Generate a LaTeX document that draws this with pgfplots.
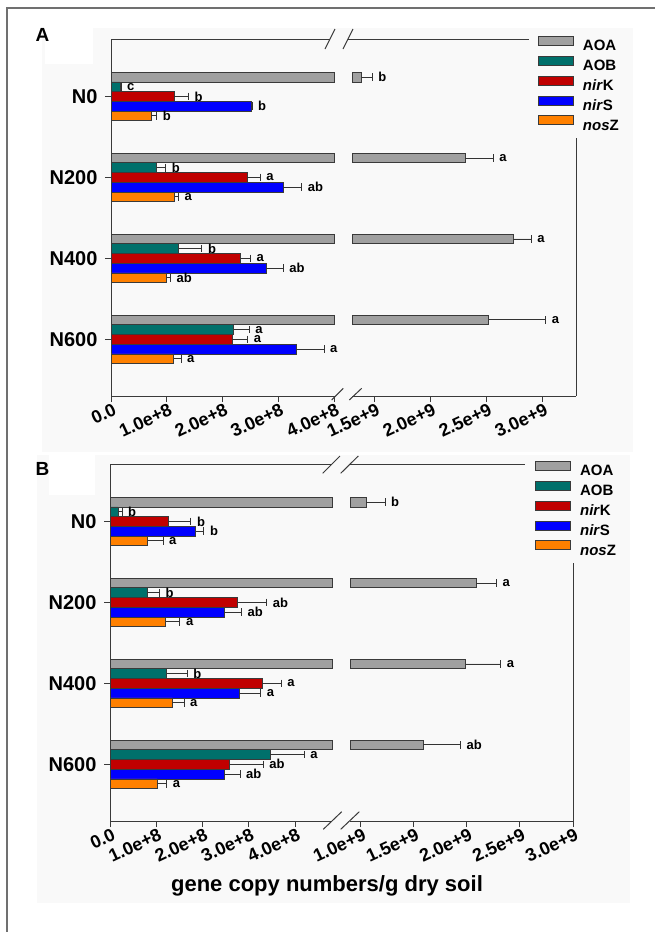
\documentclass[border=0pt]{standalone}
\usepackage{pgfplots}
\pgfplotsset{compat=1.18}
\usepackage{pgfplotstable}
\usepackage{fontspec}
\setmainfont{Liberation Sans}
\definecolor{cAOA}{HTML}{A0A0A0}
\definecolor{cAOB}{HTML}{00706B}
\definecolor{cK}{HTML}{C00000}
\definecolor{cS}{HTML}{0000FF}
\definecolor{cZ}{HTML}{FF8000}
\definecolor{edge}{HTML}{3A3A3A}
\definecolor{bg}{HTML}{F9F9F9}
\definecolor{frm}{HTML}{707070}

\pgfplotstableread{
g AOA eAOA lAOA AOB eAOB lAOB K eK lK S eS lS Z eZ lZ
3 1.38e9 0.10e9 b 1.6e7 0.2e7 c 1.13e8 0.26e8 b 2.51e8 0.02e8 b 0.72e8 0.10e8 b
2 2.31e9 0.25e9 a 0.82e8 0.16e8 b 2.44e8 0.235e8 a 3.09e8 0.33e8 ab 1.14e8 0.07e8 a
1 2.74e9 0.16e9 a 1.215e8 0.415e8 b 2.33e8 0.17e8 a 2.78e8 0.31e8 ab 0.99e8 0.075e8 ab
0 2.52e9 0.51e9 a 2.20e8 0.28e8 a 2.17e8 0.28e8 a 3.32e8 0.50e8 a 1.125e8 0.13e8 a
}\tabA
\pgfplotstableread{
g AOA eAOA lAOA AOB eAOB lAOB K eK lK S eS lS Z eZ lZ
3 1.05e9 0.18e9 b 1.8e7 0.8e7 b 1.26e8 0.49e8 b 1.85e8 0.18e8 b 0.815e8 0.33e8 a
2 2.09e9 0.19e9 a 0.80e8 0.27e8 b 2.76e8 0.63e8 ab 2.47e8 0.37e8 ab 1.20e8 0.31e8 a
1 1.99e9 0.33e9 a 1.225e8 0.445e8 b 3.29e8 0.41e8 a 2.79e8 0.47e8 a 1.35e8 0.25e8 a
0 1.59e9 0.35e9 ab 3.47e8 0.73e8 a 2.59e8 0.72e8 ab 2.48e8 0.33e8 ab 1.02e8 0.205e8 a
}\tabB

\pgfplotsset{
  gbar/.style={xbar, bar width=0.12, bar shift=0pt, draw=edge, line width=0.8pt},
  err/.style={error bars/x dir=plus, error bars/x explicit,
    error bars/error bar style={line width=0.9pt, draw=black!80},
    error bars/error mark options={rotate=90, mark size=3.8pt, line width=0.9pt, draw=black!80}},
  lab/.style={draw=none, mark=none, forget plot, nodes near coords, point meta=explicit symbolic,
    every node near coord/.style={anchor=west, inner sep=0pt, xshift=6pt, text=black,
      font=\fontsize{13}{13}\selectfont\bfseries}},
  base/.style={scale only axis, height=357pt, ymin=-0.70, ymax=3.71,
    axis x line*=bottom, axis line style={draw=edge, line width=1pt},
    tick align=outside, major tick length=6pt, tick style={draw=edge, line width=1pt},
    scaled x ticks=false,
    xticklabel style={font=\fontsize{18}{18}\selectfont\bfseries, rotate=25, anchor=north east, inner sep=1pt, xshift=2pt},
    yticklabel style={font=\fontsize{20}{20}\selectfont\bfseries, xshift=-4pt},
    legend image code/.code={\draw[#1, line width=0.8pt] (0pt,0.9pt) rectangle (35pt,9.9pt);},
    legend cell align=left},
  lg/.style={legend style={at={(0.830,1.0085)}, anchor=north west, draw=none, fill=none,
    inner sep=0pt, row sep=0pt, column sep=0pt,
    font=\fontsize{15}{15}\selectfont\bfseries,
    nodes={inner sep=0pt, inner xsep=9pt, text height=14pt, text depth=5pt}}},
}

\newcommand\leftplots[2]{%
  \addplot[gbar, fill=cAOA, restrict x to domain*=0:#2, forget plot] table[x=AOA,y expr=\thisrow{g}+0.24]{#1};
  \addplot[gbar, fill=cAOB, err, forget plot] table[x=AOB,y expr=\thisrow{g}+0.12,x error=eAOB]{#1};
  \addplot[gbar, fill=cK, err, forget plot] table[x=K,y=g,x error=eK]{#1};
  \addplot[gbar, fill=cS, err, forget plot] table[x=S,y expr=\thisrow{g}-0.12,x error=eS]{#1};
  \addplot[gbar, fill=cZ, err, forget plot] table[x=Z,y expr=\thisrow{g}-0.24,x error=eZ]{#1};
  \addplot[lab] table[x expr=\thisrow{AOB}+\thisrow{eAOB}, y expr=\thisrow{g}+0.12, meta=lAOB]{#1};
  \addplot[lab] table[x expr=\thisrow{K}+\thisrow{eK}, y expr=\thisrow{g}, meta=lK]{#1};
  \addplot[lab] table[x expr=\thisrow{S}+\thisrow{eS}, y expr=\thisrow{g}-0.12, meta=lS]{#1};
  \addplot[lab] table[x expr=\thisrow{Z}+\thisrow{eZ}, y expr=\thisrow{g}-0.24, meta=lZ]{#1};
}
\newcommand\rightplots[1]{%
  \addplot[gbar, fill=cAOA, err, forget plot] table[x=AOA,y expr=\thisrow{g}+0.24,x error=eAOA]{#1};
  \addplot[lab] table[x expr=\thisrow{AOA}+\thisrow{eAOA}, y expr=\thisrow{g}+0.24, meta=lAOA]{#1};
  \addlegendimage{fill=cAOA, draw=edge}\addlegendentry{AOA}
  \addlegendimage{fill=cAOB, draw=edge}\addlegendentry{AOB}
  \addlegendimage{fill=cK, draw=edge}\addlegendentry{\textit{nir}K}
  \addlegendimage{fill=cS, draw=edge}\addlegendentry{\textit{nir}S}
  \addlegendimage{fill=cZ, draw=edge}\addlegendentry{\textit{nos}Z}
}

\begin{document}
\begin{tikzpicture}[x=1pt, y=-1pt]
\useasboundingbox (0,0) rectangle (655,932);
\fill[white] (0,0) rectangle (655,932);
\fill[bg] (42,28) rectangle (633,452);
\fill[bg] (37,455) rectangle (630,903);
\fill[white] (45,28) rectangle (93,64);
\fill[white] (49,455) rectangle (95,495);
\draw[frm, line width=1.5pt] (7,932) -- (7,8) -- (655,8);
\node[font=\fontsize{19}{19}\selectfont\bfseries] at (42.5,35) {A};
\node[font=\fontsize{19}{19}\selectfont\bfseries] at (42.5,468.5) {B};

% ---------- Panel A ----------
\begin{axis}[base, at={(111pt,-396pt)}, anchor=south west, width=223pt,
  xmin=0, xmax=4e8, axis y line*=left, clip=false,
  xtick={0,1e8,2e8,3e8,4e8}, xticklabels={0.0,1.0e+8,2.0e+8,3.0e+8,4.0e+8},
  ytick={0,1,2,3}, yticklabels={N600,N400,N200,N0}]
  \leftplots{\tabA}{4e8}
\end{axis}
\begin{axis}[base, lg, at={(352pt,-396pt)}, anchor=south west, width=224pt,
  xmin=1.3e9, xmax=3.3e9, axis y line=none,
  xtick={1.5e9,2e9,2.5e9,3e9}, xticklabels={1.5e+9,2.0e+9,2.5e+9,3.0e+9}]
  \rightplots{\tabA}
\end{axis}
\draw[edge, line width=1pt] (111,39) -- (330,39) (348,39) -- (529,39) (576,138) -- (576,396);
\draw[edge, line width=1pt] (325,49) -- (335,29) (343,49) -- (353,29);
\draw[edge, line width=1pt] (331.7,400) -- (343.3,388.3) (349.3,400) -- (361.7,388.3);

% ---------- Panel B ----------
\begin{axis}[base, at={(110pt,-821pt)}, anchor=south west, width=222pt,
  xmin=0, xmax=4.8e8, axis y line*=left, clip=false,
  xtick={0,1e8,2e8,3e8,4e8}, xticklabels={0.0,1.0e+8,2.0e+8,3.0e+8,4.0e+8},
  ytick={0,1,2,3}, yticklabels={N600,N400,N200,N0}]
  \leftplots{\tabB}{4.8e8}
\end{axis}
\begin{axis}[base, lg, at={(350pt,-821pt)}, anchor=south west, width=223pt,
  xmin=0.9e9, xmax=3.0e9, axis y line=none,
  xtick={1e9,1.5e9,2e9,2.5e9,3e9}, xticklabels={1.0e+9,1.5e+9,2.0e+9,2.5e+9,3.0e+9}]
  \rightplots{\tabB}
\end{axis}
\draw[edge, line width=1pt] (110,464) -- (331,464) (349,464) -- (525,464) (573,563) -- (573,821);
\draw[edge, line width=1pt] (322.7,473.3) -- (340,456) (340.7,473.3) -- (358.3,456);
\draw[edge, line width=1pt] (323.3,829.3) -- (341.7,811.7) (340.7,829.3) -- (359.3,811.7);

\node[font=\fontsize{22}{22}\selectfont\bfseries] at (327,886) {gene copy numbers/g dry soil};
\end{tikzpicture}
\end{document}
